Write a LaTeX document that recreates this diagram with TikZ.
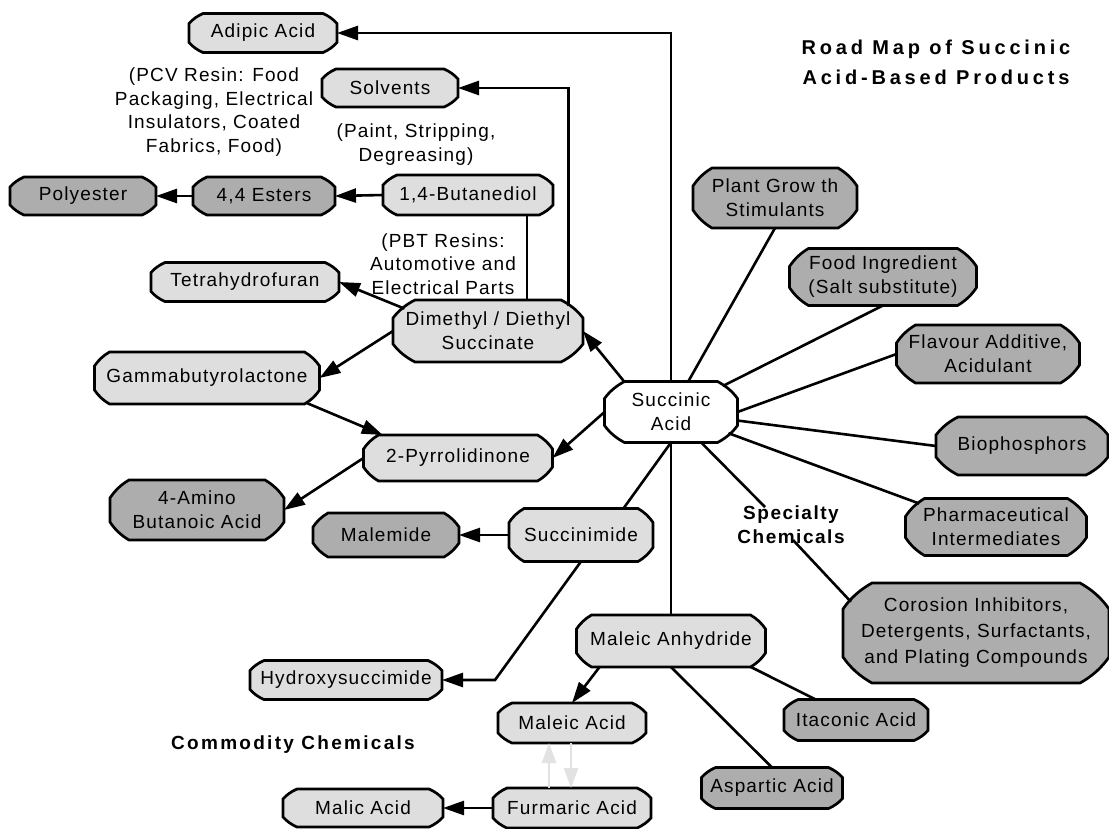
\documentclass[tikz,border=0pt]{standalone}
\usepackage{fontspec}
\setmainfont{Liberation Sans}[LetterSpace=6]
\usetikzlibrary{arrows.meta}
\definecolor{lightfill}{HTML}{DEDEDE}
\definecolor{darkfill}{HTML}{ADADAD}
\definecolor{paleline}{HTML}{E2E2E2}

% ---- octagonal box with slightly bulging cut corners ----
\makeatletter
\newdimen\octoxl \newdimen\octoxr \newdimen\octoyb \newdimen\octoyt
\newdimen\octocxd \newdimen\octocyd
\def\octobulge{0.16}
\pgfkeys{/pgf/octo cx/.initial=14pt, /pgf/octo cy/.initial=10pt}
\def\octoparse#1,#2\relax{\def\octocx{#1}\def\octocy{#2}}
\def\octoload{\expandafter\octoparse\octoparams\relax}
% curve from A to B bowing towards corner C
\def\octocurve#1#2#3#4#5#6{%
  \pgfpathcurveto
    {\pgfpoint{(#1)+((#3)-(#1))/3+\octobulge*((#5)-((#1)+(#3))/2)}%
              {(#2)+((#4)-(#2))/3+\octobulge*((#6)-((#2)+(#4))/2)}}%
    {\pgfpoint{(#1)+2*((#3)-(#1))/3+\octobulge*((#5)-((#1)+(#3))/2)}%
              {(#2)+2*((#4)-(#2))/3+\octobulge*((#6)-((#2)+(#4))/2)}}%
    {\pgfpoint{#3}{#4}}}
\pgfdeclareshape{octo}{%
  \inheritsavedanchors[from=rectangle]%
  \inheritanchor[from=rectangle]{center}%
  \inheritanchor[from=rectangle]{north}%
  \inheritanchor[from=rectangle]{south}%
  \inheritanchor[from=rectangle]{east}%
  \inheritanchor[from=rectangle]{west}%
  \inheritanchor[from=rectangle]{text}%
  \inheritanchor[from=rectangle]{base}%
  \inheritanchor[from=rectangle]{mid}%
  \savedmacro\octoparams{%
    \pgfmathsetlengthmacro\octocxval{\pgfkeysvalueof{/pgf/octo cx}}%
    \pgfmathsetlengthmacro\octocyval{\pgfkeysvalueof{/pgf/octo cy}}%
    \edef\octoparams{\octocxval,\octocyval}%
  }%
  \backgroundpath{%
    \octoload
    \southwest \octoxl=\pgf@x \octoyb=\pgf@y
    \northeast \octoxr=\pgf@x \octoyt=\pgf@y
    \octocxd=\octocx\relax \octocyd=\octocy\relax
    \pgfpathmoveto{\pgfpoint{\octoxl}{\octoyb+\octocyd}}%
    \pgfpathlineto{\pgfpoint{\octoxl}{\octoyt-\octocyd}}%
    \octocurve{\octoxl}{\octoyt-\octocyd}{\octoxl+\octocxd}{\octoyt}{\octoxl}{\octoyt}%
    \pgfpathlineto{\pgfpoint{\octoxr-\octocxd}{\octoyt}}%
    \octocurve{\octoxr-\octocxd}{\octoyt}{\octoxr}{\octoyt-\octocyd}{\octoxr}{\octoyt}%
    \pgfpathlineto{\pgfpoint{\octoxr}{\octoyb+\octocyd}}%
    \octocurve{\octoxr}{\octoyb+\octocyd}{\octoxr-\octocxd}{\octoyb}{\octoxr}{\octoyb}%
    \pgfpathlineto{\pgfpoint{\octoxl+\octocxd}{\octoyb}}%
    \octocurve{\octoxl+\octocxd}{\octoyb}{\octoxl}{\octoyb+\octocyd}{\octoxl}{\octoyb}%
    \pgfpathclose
  }%
  \anchorborder{%
    \edef\octodx{\pgf@sys@tonumber\pgf@x}%
    \edef\octody{\pgf@sys@tonumber\pgf@y}%
    \octoload
    \southwest \edef\octol{\pgf@sys@tonumber\pgf@x}\edef\octob{\pgf@sys@tonumber\pgf@y}%
    \northeast \edef\octor{\pgf@sys@tonumber\pgf@x}\edef\octot{\pgf@sys@tonumber\pgf@y}%
    \pgfmathsetmacro\octoW{(\octor-\octol)/2}%
    \pgfmathsetmacro\octoH{(\octot-\octob)/2}%
    \pgfmathsetmacro\octoCX{(\octor+\octol)/2}%
    \pgfmathsetmacro\octoCY{(\octot+\octob)/2}%
    % scale the direction down before taking its length
    \pgfmathsetmacro\octoscale{max(abs(\octodx),abs(\octody),0.0001)}%
    \pgfmathsetmacro\octonx{\octodx/\octoscale}%
    \pgfmathsetmacro\octony{\octody/\octoscale}%
    \pgfmathsetmacro\octolen{sqrt(\octonx*\octonx+\octony*\octony)}%
    \pgfmathsetmacro\octoux{abs(\octonx)/\octolen}%
    \pgfmathsetmacro\octouy{abs(\octony)/\octolen}%
    \pgfmathsetmacro\octocxn{\octocx}%
    \pgfmathsetmacro\octocyn{\octocy}%
    \pgfmathsetmacro\octotee{min(\octoW/max(\octoux,0.01),\octoH/max(\octouy,0.01),
      (\octoW/\octocxn+\octoH/\octocyn-1)/(\octoux/\octocxn+\octouy/\octocyn))}%
    \pgfmathsetlength\pgf@x{\octoCX+\octotee*\octonx/\octolen}%
    \pgfmathsetlength\pgf@y{\octoCY+\octotee*\octony/\octolen}%
  }%
}
\makeatother

\begin{document}
\begin{tikzpicture}[x=1pt,y=-1pt,
  every node/.style={font=\fontsize{19}{24}\selectfont},
  box/.style={octo, draw=black, line width=2.7pt, inner sep=0pt, outer sep=0pt,
    align=center, octo cx=14pt, octo cy=10pt},
  lite/.style={box, fill=lightfill},
  dark/.style={box, fill=darkfill},
  plain/.style={box, fill=white},
  mid/.style={octo cx=15pt, octo cy=14pt},
  tall/.style={octo cx=19pt, octo cy=18pt},
  link/.style={line width=2.6pt},
  arr/.style={link, -{Triangle[length=21pt,width=14pt]}},
  pale/.style={line width=2.6pt, draw=paleline, -{Triangle[length=20pt,width=14pt]}},
  note/.style={align=center, inner sep=0pt},
  heading/.style={align=center, inner sep=0pt}
]
\fill[white] (0,0) rectangle (1109,828);
\useasboundingbox (0,0) rectangle (1109,828);

% ---- product boxes ----
\node[lite, minimum width=148pt, minimum height=39pt] (aa) at (263,33) {Adipic Acid};
\node[lite, minimum width=136pt, minimum height=38pt] (sv) at (390,88) {Solvents};
\node[dark, minimum width=146pt, minimum height=38pt] (pl) at (83,196) {Polyester};
\node[dark, minimum width=142pt, minimum height=38pt] (es) at (264,196) {4,4 Esters};
\node[lite, minimum width=170pt, minimum height=40pt] (bd) at (468,195) {1,4-Butanediol};
\node[lite, minimum width=188pt, minimum height=39pt] (th) at (245,282) {Tetrahydrofuran};
\node[lite, tall, octo cx=22pt, minimum width=190pt, minimum height=62pt] (ds) at (488,331) {Dimethyl / Diethyl\\Succinate};
\node[lite, mid, minimum width=225pt, minimum height=52pt] (gb) at (207,378) {Gammabutyrolactone};
\node[plain, tall, octo cx=20pt, octo cy=17pt, minimum width=133pt, minimum height=61pt] (sa) at (671,412) {Succinic\\Acid};
\node[lite, mid, minimum width=189pt, minimum height=46pt] (pr) at (458,458) {2-Pyrrolidinone};
\node[dark, tall, minimum width=174pt, minimum height=60pt] (am) at (197,510) {4-Amino\\Butanoic Acid};
\node[dark, mid, minimum width=146pt, minimum height=44pt] (ml) at (386,535) {Malemide};
\node[lite, mid, minimum width=144pt, minimum height=53pt] (si) at (581,535) {Succinimide};
\node[lite, minimum width=192pt, minimum height=39pt] (hs) at (346,680) {Hydroxysuccimide};
\node[lite, mid, minimum width=189pt, minimum height=52pt] (ma) at (671,641) {Maleic Anhydride};
\node[lite, minimum width=148pt, minimum height=40pt] (mac) at (572,723) {Maleic Acid};
\node[lite, minimum width=158pt, minimum height=40pt] (fu) at (572,808) {Furmaric Acid};
\node[lite, minimum width=160pt, minimum height=38pt] (mal) at (363,808) {Malic Acid};
\node[dark, minimum width=144pt, minimum height=41pt] (it) at (856,720) {Itaconic Acid};
\node[dark, minimum width=141pt, minimum height=41pt] (asp) at (772,788) {Aspartic Acid};
\node[dark, tall, minimum width=164pt, minimum height=60pt] (pg) at (775,198) {Plant Grow th\\Stimulants};
\node[dark, tall, minimum width=187pt, minimum height=57pt] (fi) at (883,277) {Food Ingredient\\(Salt substitute)};
\node[dark, tall, minimum width=183pt, minimum height=58pt] (fa) at (988,354) {Flavour Additive,\\Acidulant};
\node[dark, tall, octo cx=22pt, minimum width=172pt, minimum height=58pt] (bp) at (1022,446) {Biophosphors};
\node[dark, tall, minimum width=181pt, minimum height=57pt] (ph) at (996,527) {Pharmaceutical\\Intermediates};
\node[dark, octo cx=29pt, octo cy=26pt, minimum width=266pt, minimum height=100pt,
      font=\fontsize{19}{26}\selectfont] (ci) at (976,633)
      {Corosion Inhibitors,\\Detergents, Surfactants,\\and Plating Compounds};

% ---- notes and headings ----
\node[note, font=\fontsize{19}{23.7}\selectfont] (pcv) at (214,112) {(PCV Resin: Food\\Packaging, Electrical\\Insulators, Coated\\Fabrics, Food)};
\node[note] (paint) at (416,145) {(Paint, Stripping,\\Degreasing)};
\node[note, font=\fontsize{19}{23.7}\selectfont] (pbt) at (443,264) {(PBT Resins:\\Automotive and\\Electrical Parts};
\node[heading, font=\fontsize{20}{30}\selectfont\bfseries\addfontfeatures{LetterSpace=19}] (title) at (936,62) {Road Map of Succinic\\Acid-Based Products};
\node[heading, font=\fontsize{19}{24}\selectfont\bfseries\addfontfeatures{LetterSpace=8}] (sc) at (791,525) {Specialty\\Chemicals};
\node[heading, font=\fontsize{19}{24}\selectfont\bfseries\addfontfeatures{LetterSpace=12}] (cc) at (293,745) {Commodity Chemicals};

% ---- connector end points ----
\coordinate (scTop) at (765,507);
\coordinate (scLow) at (793,540);
\coordinate (hbend) at (495,680);
\path ([xshift=59pt]bd.south) coordinate (bdfoot);

% ---- connectors ----
\draw[arr] (sa.north) |- (aa.east);
\draw[link] (sa.south) -- (ma.north);
\draw[arr] (ds.17) |- (sv.east);
\draw[link] (bdfoot) -- (bdfoot |- ds.north);
\draw[arr] (bd.west) -- (es.east);
\draw[arr] (es.west) -- (pl.east);
\draw[arr] (ds.165) -- (th.east);
\draw[arr] (ds.west) -- (gb.east);
\draw[arr] (sa.147) -- (ds.east);
\draw[arr] (gb.-14) -- (pr.163);
\draw[arr] (sa.west) -- (pr.east);
\draw[arr] (pr.west) -- (am.east);
\draw[link] (sa.south) -- (si.32);
\draw[arr] (si.west) -- (ml.east);
\draw[arr] (si.south) -- (hbend) -- (hs.east);
\draw[arr] (ma.200) -- (mac.north);
\draw[link] (ma.-18) -- (it.153);
\draw[link] (ma.south) -- (asp.north);
\draw[arr] (fu.west) -- (mal.east);
\draw[pale] ([xshift=-23pt]fu.north) -- ([xshift=-23pt]mac.south);
\draw[pale] ([xshift=-1pt]mac.south) -- ([xshift=-1pt]fu.north);
\draw[link] (sa) -- (pg.south);
\draw[link] (sa) -- (fi.south);
\draw[link] (sa.east) -- (fa.west);
\draw[link] (sa) -- (bp.west);
\draw[link] (sa) -- (ph.163);
\draw[link] (sa) -- (scTop);
\draw[link] (scLow) -- (ci.166);
\end{tikzpicture}
\end{document}
